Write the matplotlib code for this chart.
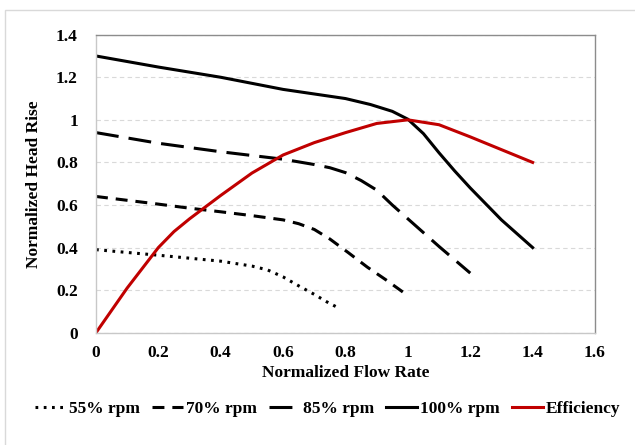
import matplotlib
matplotlib.use("Agg")
import matplotlib.pyplot as plt
from matplotlib.patches import Rectangle

flow_55 = [0.0, 0.1, 0.2, 0.3, 0.4, 0.5, 0.55, 0.6, 0.65, 0.7, 0.74, 0.77]
head_55 = [0.39, 0.377, 0.364, 0.35, 0.336, 0.313, 0.295, 0.262, 0.22, 0.18, 0.145, 0.122]

flow_70 = [0.0, 0.1, 0.2, 0.3, 0.4, 0.5, 0.6, 0.65, 0.7, 0.75, 0.81, 0.87, 0.93, 0.985]
head_70 = [0.64, 0.622, 0.604, 0.585, 0.568, 0.55, 0.53, 0.512, 0.485, 0.44, 0.375, 0.308, 0.248, 0.19]

flow_85 = [0.0, 0.2, 0.4, 0.6, 0.7, 0.75, 0.8, 0.85, 0.9, 0.95, 1.0, 1.1, 1.2]
head_85 = [0.94, 0.89, 0.85, 0.815, 0.79, 0.775, 0.752, 0.715, 0.67, 0.6, 0.535, 0.405, 0.28]

flow_100 = [0.0, 0.2, 0.4, 0.6, 0.8, 0.88, 0.95, 1.0, 1.05, 1.1, 1.15, 1.2, 1.3, 1.4]
head_100 = [1.3, 1.248, 1.2, 1.143, 1.1, 1.072, 1.04, 1.003, 0.935, 0.845, 0.76, 0.68, 0.53, 0.4]

flow_eff = [0.0, 0.1, 0.2, 0.25, 0.3, 0.35, 0.4, 0.5, 0.6, 0.7, 0.8, 0.9, 1.0, 1.1, 1.2, 1.3, 1.4]
eff = [0.0, 0.21, 0.40, 0.475, 0.535, 0.59, 0.645, 0.75, 0.835, 0.893, 0.94, 0.983, 1.0, 0.977, 0.92, 0.86, 0.8]

x_ticks = [0, 0.2, 0.4, 0.6, 0.8, 1, 1.2, 1.4, 1.6]
x_ticklabels = ["0", "0.2", "0.4", "0.6", "0.8", "1", "1.2", "1.4", "1.6"]
y_ticks = [0, 0.2, 0.4, 0.6, 0.8, 1, 1.2, 1.4]
y_ticklabels = ["0", "0.2", "0.4", "0.6", "0.8", "1", "1.2", "1.4"]

plt.rcParams['font.family'] = ['Liberation Serif', 'DejaVu Serif']
plt.rcParams['font.weight'] = 'bold'

FS = 12.5

fig = plt.figure(figsize=(6.35, 4.45), dpi=100)
fig.patches.append(Rectangle((5/635, -0.1), 1.2, 1 - 9.5/445 + 0.1, transform=fig.transFigure,
                             fill=False, edgecolor='#d9d9d9', linewidth=1.0, zorder=0))
ax = fig.add_axes([96/635, 1 - 332.7/445, 499/635, (332.7 - 34.7)/445])

lw = 2.2
l55, = ax.plot(flow_55, head_55, color='black', lw=lw, linestyle=(0, (0.9, 1.8)), dash_capstyle='butt', label='55% rpm')
l70, = ax.plot(flow_70, head_70, color='black', lw=lw, linestyle=(0, (3.9, 2.6)), dash_capstyle='butt', label='70% rpm')
l85, = ax.plot(flow_85, head_85, color='black', lw=lw, linestyle=(0, (7.5, 3.3)), dash_capstyle='butt', label='85% rpm')
l100, = ax.plot(flow_100, head_100, color='black', lw=lw, linestyle='-', label='100% rpm')
leff, = ax.plot(flow_eff, eff, color='#c00000', lw=lw, linestyle='-', label='Efficiency')

ax.set_xlim(0, 1.6)
ax.set_ylim(0, 1.4)
ax.set_xticks(x_ticks)
ax.set_xticklabels(x_ticklabels)
ax.set_yticks(y_ticks)
ax.set_yticklabels(y_ticklabels)
ax.tick_params(axis='both', length=0, labelsize=FS)
ax.tick_params(axis='x', pad=9)
ax.tick_params(axis='y', pad=13)
for t in ax.get_xticklabels() + ax.get_yticklabels():
    t.set_fontweight('bold')

ax.yaxis.grid(True, color='#d9d9d9', linestyle=(0, (4, 3)), linewidth=0.8)
ax.set_axisbelow(True)
ax.spines['top'].set_color('#8c8c8c')
ax.spines['right'].set_color('#8c8c8c')
ax.spines['left'].set_color('#c8c8c8')
ax.spines['bottom'].set_color('#c8c8c8')
for s in ax.spines.values():
    s.set_linewidth(1.0)

ax.set_xlabel('Normalized Flow Rate', fontsize=FS, fontweight='bold', labelpad=3)
ax.set_ylabel('Normalized Head Rise', fontsize=FS, fontweight='bold', labelpad=10)

fig.legend(handles=[l55, l70, l85, l100, leff], loc='center', bbox_to_anchor=(0.516, 1 - 409/445),
           ncol=5, frameon=False, handlelength=1.8, handletextpad=0.15,
           columnspacing=0.7, prop={'weight': 'bold', 'size': FS})

fig.savefig('out.png', dpi=100)
